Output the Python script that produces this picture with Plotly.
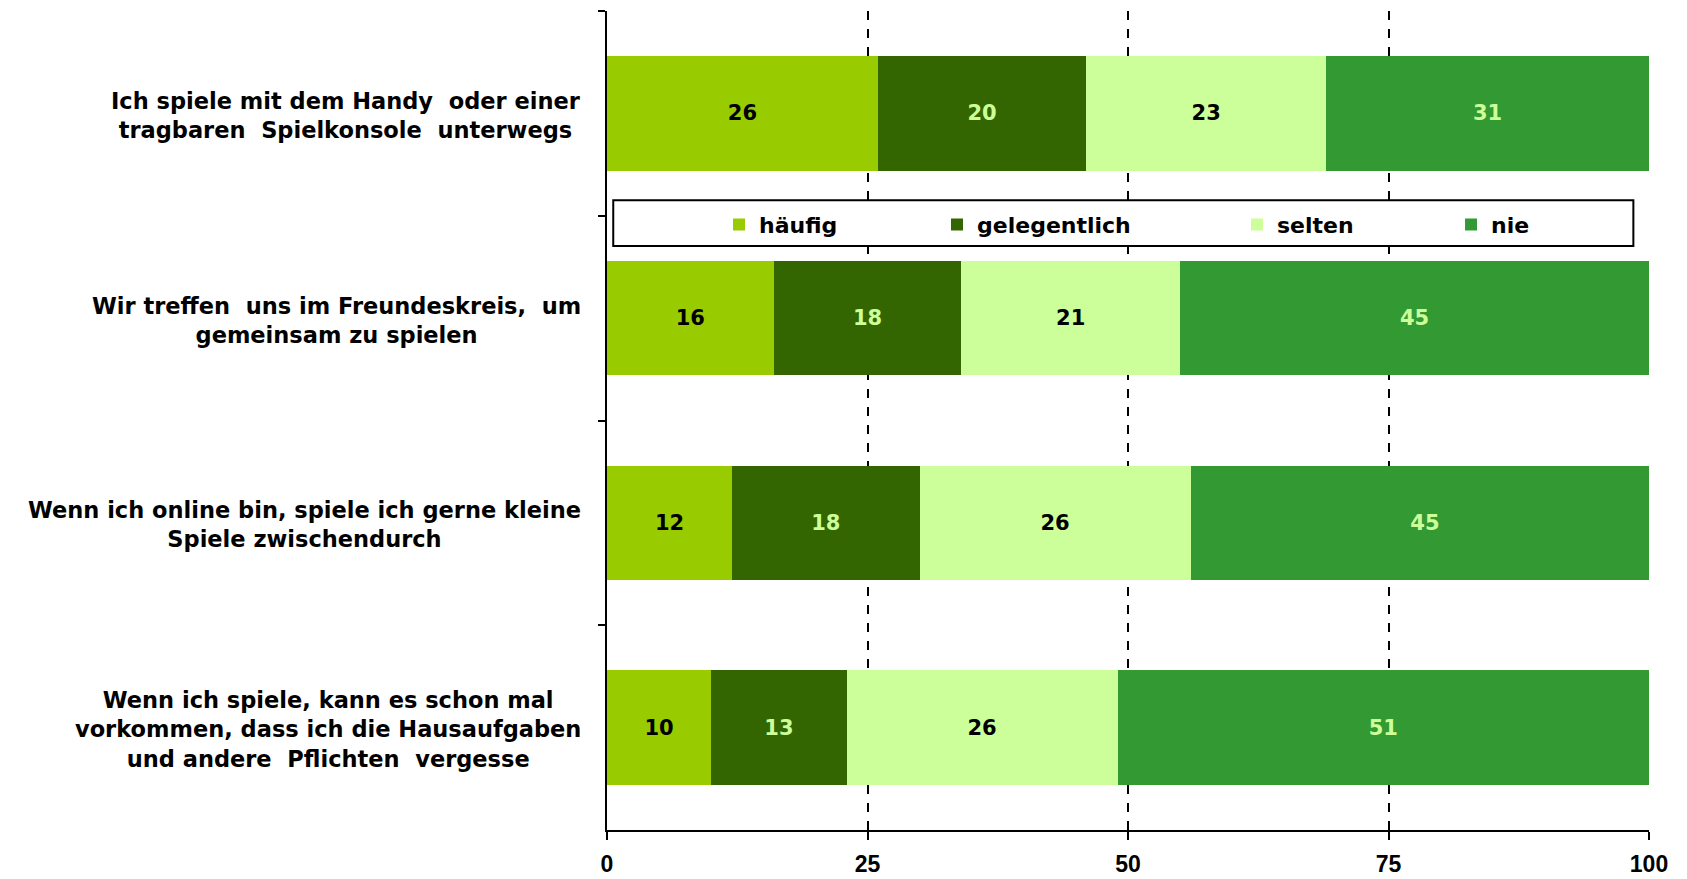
import plotly.graph_objects as go

categories = [
    "Ich spiele mit dem Handy  oder einer<br>tragbaren  Spielkonsole  unterwegs",
    "Wir treffen  uns im Freundeskreis,  um<br>gemeinsam zu spielen",
    "Wenn ich online bin, spiele ich gerne kleine<br>Spiele zwischendurch",
    "Wenn ich spiele, kann es schon mal<br>vorkommen, dass ich die Hausaufgaben<br>und andere  Pflichten  vergesse",
]
series_names = ["häufig", "gelegentlich", "selten", "nie"]
haeufig = [26, 16, 12, 10]
gelegentlich = [20, 18, 18, 13]
selten = [23, 21, 26, 26]
nie = [31, 45, 45, 51]
x_ticks = [0, 25, 50, 75, 100]

values = [haeufig, gelegentlich, selten, nie]
colors = ["#99CC00", "#336600", "#CCFF99", "#339933"]
text_colors = ["#000000", "#CCFF99", "#000000", "#CCFF99"]
legend_ids = ["legend", "legend2", "legend3", "legend4"]
legend_x = [0.1075, 0.3167, 0.6046, 0.81]
FONT = "Liberation Sans, Arial, sans-serif"
WIDE = "DejaVu Sans, Liberation Sans, sans-serif"

fig = go.Figure()
for name, vals, col, tcol, lid in zip(series_names, values, colors, text_colors, legend_ids):
    fig.add_trace(go.Bar(
        y=categories, x=vals, name=name, orientation="h", legend=lid,
        marker=dict(color=col, line=dict(width=0)),
        text=[str(v) for v in vals], textposition="inside",
        insidetextanchor="middle", constraintext="none",
        textfont=dict(family=WIDE, size=21, color=tcol, weight="bold"),
        hoverinfo="skip",
    ))

for c in categories:
    fig.add_annotation(
        x=0, xref="paper", xshift=-24, xanchor="right",
        y=c, yref="y", yanchor="middle", yshift=-2,
        text=c, showarrow=False, align="center",
        font=dict(family=WIDE, size=22.5, color="#000000", weight="bold"),
    )

fig.add_shape(type="rect", xref="paper", yref="paper",
              x0=0.006, x1=0.985, y0=0.713, y1=0.769,
              line=dict(color="#000000", width=2), fillcolor="#FFFFFF", layer="above")

legend_common = dict(
    orientation="h", xanchor="left", y=0.739, yanchor="middle",
    bgcolor="rgba(0,0,0,0)", borderwidth=0,
    font=dict(family=WIDE, size=22, color="#000000", weight="bold"),
    itemclick=False, itemdoubleclick=False,
)
legend_layout = {lid: dict(x=lx, **legend_common) for lid, lx in zip(legend_ids, legend_x)}

fig.update_layout(
    barmode="stack", bargap=0.44,
    width=1679, height=871,
    margin=dict(l=599, r=38, t=3, b=49),
    paper_bgcolor="#FFFFFF", plot_bgcolor="#FFFFFF",
    font=dict(family=FONT, size=22, color="#000000"),
    showlegend=True,
    xaxis=dict(
        range=[0, 100], tickvals=x_ticks, ticktext=[str(t) for t in x_ticks],
        showgrid=True, gridcolor="#000000", griddash="dash", gridwidth=1.5,
        showline=True, linecolor="#000000", linewidth=2,
        ticks="outside", ticklen=8, tickwidth=1.5, tickcolor="#000000",
        ticklabelstandoff=4, automargin=False,
        tickfont=dict(family=FONT, size=23, color="#000000", weight="bold"),
        zeroline=False, fixedrange=True,
    ),
    yaxis=dict(
        autorange="reversed", showticklabels=False,
        showline=True, linecolor="#000000", linewidth=2,
        ticks="outside", ticklen=7, tickwidth=1.5, tickcolor="#000000",
        tickson="boundaries", showgrid=False, zeroline=False, fixedrange=True,
    ),
    **legend_layout,
)
fig.write_html("out.html")
